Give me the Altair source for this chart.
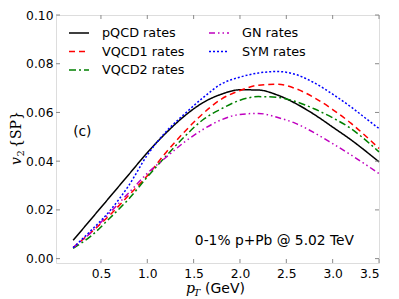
import altair as alt
import pandas as pd

pT = [0.2, 0.4, 0.6, 0.8, 1.0, 1.2, 1.4, 1.6, 1.8, 2.0, 2.2, 2.4, 2.6, 2.8, 3.0, 3.2, 3.4, 3.5]
pqcd = [0.0075, 0.0165, 0.0255, 0.0345, 0.0435, 0.0515, 0.0585, 0.064, 0.0675, 0.0693, 0.0692, 0.0672, 0.0637, 0.0592, 0.054, 0.0487, 0.0428, 0.0397]
vqcd1 = [0.0045, 0.011, 0.018, 0.026, 0.034, 0.0435, 0.052, 0.0595, 0.0655, 0.069, 0.0712, 0.0716, 0.0698, 0.0661, 0.0612, 0.0555, 0.0488, 0.0452]
vqcd2 = [0.0042, 0.0095, 0.0168, 0.0245, 0.0335, 0.042, 0.050, 0.057, 0.0615, 0.065, 0.0665, 0.0662, 0.0645, 0.0615, 0.0578, 0.0533, 0.0472, 0.0438]
gn = [0.0045, 0.011, 0.019, 0.027, 0.035, 0.0415, 0.0478, 0.053, 0.057, 0.0592, 0.0596, 0.058, 0.0555, 0.0517, 0.0472, 0.0425, 0.0375, 0.0349]
sym = [0.0045, 0.0118, 0.0198, 0.030, 0.0425, 0.052, 0.0593, 0.066, 0.0717, 0.0745, 0.0762, 0.0768, 0.0756, 0.0722, 0.0675, 0.0622, 0.0563, 0.0534]

series_names = ["pQCD rates", "VQCD1 rates", "VQCD2 rates", "GN rates", "SYM rates"]
series_vals = {"pQCD rates": pqcd, "VQCD1 rates": vqcd1, "VQCD2 rates": vqcd2, "GN rates": gn, "SYM rates": sym}
colors = ["#000000", "#ff0000", "#008000", "#bf00bf", "#0000ff"]
dashes = [[1, 0], [6, 4], [7, 3, 2, 3], [6, 3, 1.5, 3, 1.5, 3], [2, 2]]

x_ticks = [0.5, 1.0, 1.5, 2.0, 2.5, 3.0, 3.5]
y_ticks = [0.00, 0.02, 0.04, 0.06, 0.08, 0.10]

rows = []
for name in series_names:
    for x, y in zip(pT, series_vals[name]):
        rows.append({"pT": x, "v2": y, "series": name})
df = pd.DataFrame(rows)

W, H = 323, 248
xs = alt.Scale(domain=[0.015, 3.5], nice=False, zero=False)
ys = alt.Scale(domain=[-0.0018, 0.10], nice=False, zero=False)
FONT = "DejaVu Sans"
GRAY = "#8a8a8a"

xax = alt.Axis(values=x_ticks, format=".1f", title=None, domain=False, ticks=False, grid=False,
               labelPadding=4, labelFontSize=12.3, labelFont=FONT, labelColor="black")
yax = alt.Axis(values=y_ticks, format=".2f", title=None, domain=False, ticks=False, grid=False,
               labelPadding=3, labelFontSize=12.3, labelFont=FONT, labelColor="black")

leg = dict(title=None, orient="none", legendX=12, legendY=7, columns=2,
           symbolType="stroke", symbolSize=400, symbolStrokeWidth=1.5,
           labelFontSize=12.8, labelFont=FONT, labelOffset=12,
           columnPadding=21, rowPadding=0.5, padding=0)

lines = alt.Chart(df).mark_line(strokeWidth=1.5, interpolate="monotone").encode(
    x=alt.X("pT:Q", scale=xs, axis=xax),
    y=alt.Y("v2:Q", scale=ys, axis=yax),
    color=alt.Color("series:N", scale=alt.Scale(domain=series_names, range=colors), legend=alt.Legend(**leg)),
    strokeDash=alt.StrokeDash("series:N", scale=alt.Scale(domain=series_names, range=dashes), legend=alt.Legend(**leg)),
)

xt = pd.DataFrame({"v": x_ticks})
yt = pd.DataFrame({"v": y_ticks})
tick_style = dict(color=GRAY, strokeWidth=1)
xb = alt.Chart(xt).mark_rule(**tick_style).encode(x=alt.X("v:Q", scale=xs, axis=xax), y=alt.value(H), y2=alt.value(H - 4))
xtp = alt.Chart(xt).mark_rule(**tick_style).encode(x=alt.X("v:Q", scale=xs, axis=xax), y=alt.value(0), y2=alt.value(4))
yl = alt.Chart(yt).mark_rule(**tick_style).encode(y=alt.Y("v:Q", scale=ys, axis=yax), x=alt.value(0), x2=alt.value(4))
yr = alt.Chart(yt).mark_rule(**tick_style).encode(y=alt.Y("v:Q", scale=ys, axis=yax), x=alt.value(W), x2=alt.value(W - 4))

ann = pd.DataFrame({"x": [0.2, 3.23], "y": [0.052, 0.0072], "t": ["(c)", "0-1% p+Pb @ 5.02 TeV"]})
t1 = alt.Chart(ann.iloc[[0]]).mark_text(align="left", baseline="middle", fontSize=13.8, font=FONT, color="black").encode(
    x=alt.X("x:Q", scale=xs, axis=xax), y=alt.Y("y:Q", scale=ys, axis=yax), text="t:N")
t2 = alt.Chart(ann.iloc[[1]]).mark_text(align="right", baseline="middle", fontSize=13.8, font=FONT, color="black").encode(
    x=alt.X("x:Q", scale=xs, axis=xax), y=alt.Y("y:Q", scale=ys, axis=yax), text="t:N")

one = pd.DataFrame({"k": [0]})
xp = alt.Chart(one).mark_text(align="left", baseline="alphabetic", fontSize=14, font="DejaVu Serif", fontStyle="italic").encode(
    x=alt.value(130), y=alt.value(278), text=alt.value("p"))
xT = alt.Chart(one).mark_text(align="left", baseline="alphabetic", fontSize=10, font="DejaVu Serif", fontStyle="italic").encode(
    x=alt.value(137.5), y=alt.value(281), text=alt.value("T"))
xg = alt.Chart(one).mark_text(align="left", baseline="alphabetic", fontSize=14, font=FONT).encode(
    x=alt.value(149), y=alt.value(278), text=alt.value("(GeV)"))
yv = alt.Chart(one).mark_text(align="left", baseline="alphabetic", fontSize=14, font="DejaVu Serif", fontStyle="italic", angle=270).encode(
    x=alt.value(-35), y=alt.value(150), text=alt.value("v"))
y2 = alt.Chart(one).mark_text(align="left", baseline="alphabetic", fontSize=10, font="DejaVu Serif", angle=270).encode(
    x=alt.value(-32.5), y=alt.value(141.5), text=alt.value("2"))
ysp = alt.Chart(one).mark_text(align="left", baseline="alphabetic", fontSize=14, font="DejaVu Serif", angle=270).encode(
    x=alt.value(-35), y=alt.value(133), text=alt.value("{SP}"))

chart = alt.layer(lines, xb, xtp, yl, yr, t1, t2, xp, xT, xg, yv, y2, ysp).properties(
    width=W, height=H, autosize="none",
    padding={"left": 48, "top": 7, "right": 12, "bottom": 36},
).configure_view(stroke=GRAY, strokeWidth=1.5).configure(background="white")

chart.save("out.html", embed_options={"renderer": "svg", "actions": False})
